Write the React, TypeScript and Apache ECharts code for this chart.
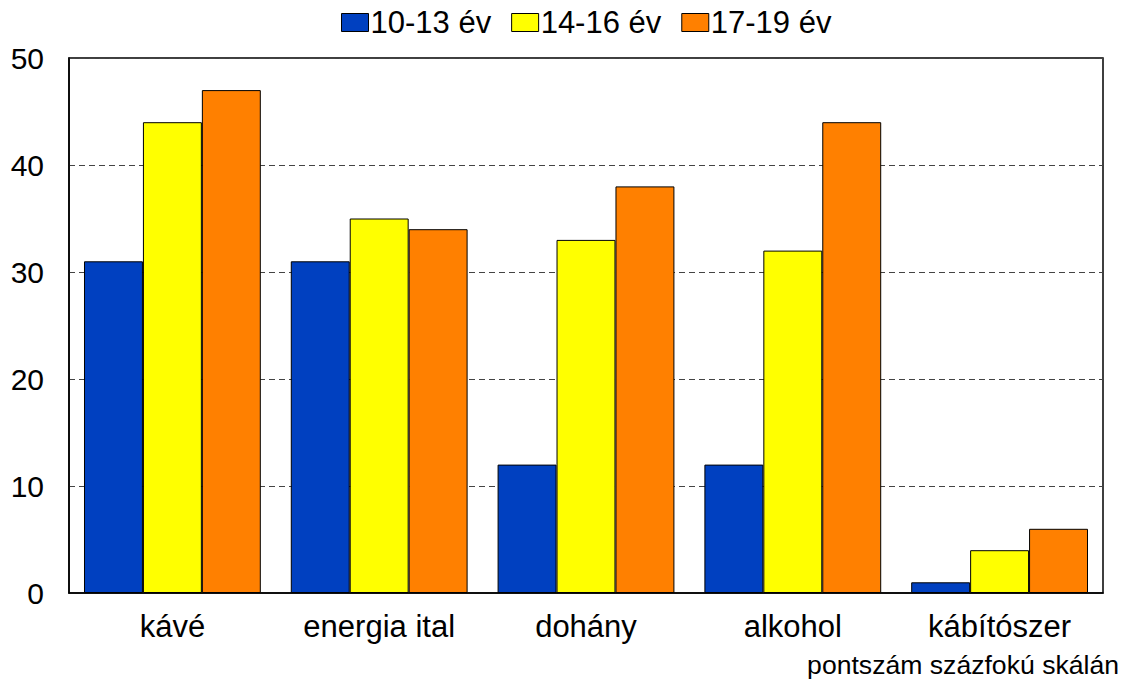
import React, { useEffect, useRef } from "react";
import * as echarts from "echarts";

const categories = ["kávé", "energia ital", "dohány", "alkohol", "kábítószer"];
const seriesNames = ["10-13 év", "14-16 év", "17-19 év"];
const age10to13 = [31, 31, 12, 12, 1];
const age14to16 = [44, 35, 33, 32, 4];
const age17to19 = [47, 34, 38, 44, 6];
const colors = ["#0040C0", "#FFFF00", "#FF8000"];
const footnote = "pontszám százfokú skálán";

export default function App() {
  const ref = useRef<HTMLDivElement>(null);
  useEffect(() => {
    if (!ref.current) return;
    const chart = echarts.init(ref.current, null, { renderer: "svg" });
    const font = "'Liberation Sans', Arial, sans-serif";
    const data = [age10to13, age14to16, age17to19];
    chart.setOption({
      animation: false,
      textStyle: { fontFamily: font },
      legend: {
        top: 2,
        left: 336,
        icon: "rect",
        itemWidth: 27,
        itemHeight: 18,
        itemGap: 20,
        textStyle: { fontSize: 31, color: "#000", fontFamily: font, padding: [0, 0, 0, -3] },
        data: seriesNames.map((n) => ({ name: n, itemStyle: { borderColor: "#000", borderWidth: 1 } })),
      },
      grid: {
        left: 69,
        right: 25,
        top: 58,
        bottom: 87,
        show: true,
        borderColor: "#000",
        borderWidth: 1.5,
        backgroundColor: "transparent",
      },
      xAxis: {
        type: "category",
        data: categories,
        axisLine: { lineStyle: { color: "#000", width: 1.5 } },
        axisTick: { show: false },
        axisLabel: { fontSize: 31, color: "#000", margin: 18, fontFamily: font },
      },
      yAxis: {
        type: "value",
        min: 0,
        max: 50,
        interval: 10,
        axisLine: { show: true, lineStyle: { color: "#000", width: 1.5 } },
        axisTick: { show: false },
        axisLabel: { fontSize: 30, color: "#000", margin: 25, fontFamily: font },
        splitLine: { show: true, lineStyle: { color: "#444", type: [6, 4], width: 1 } },
      },
      graphic: [
        {
          type: "text",
          right: 9,
          top: 651,
          style: { text: footnote, fontSize: 26.6, fill: "#000", fontFamily: font },
        },
      ],
      series: seriesNames.map((name, i) => ({
        name,
        type: "bar",
        data: data[i],
        barGap: "0%",
        barCategoryGap: "14.5%",
        itemStyle: { color: colors[i], borderColor: "#000", borderWidth: 1 },
      })),
    });
    return () => chart.dispose();
  }, []);
  return (
    <div
      ref={ref}
      style={{ position: "fixed", left: 0, top: 0, width: 1128, height: 680, background: "#fff" }}
    />
  );
}
